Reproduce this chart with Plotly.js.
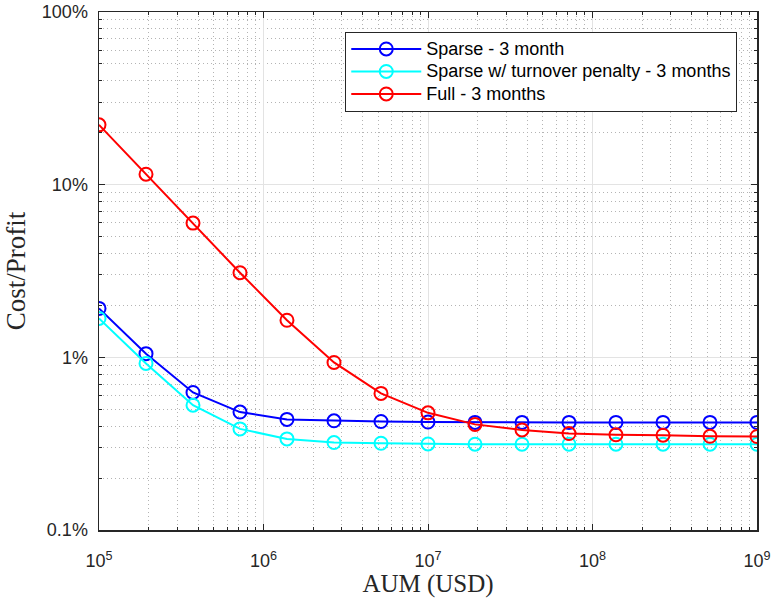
<!DOCTYPE html>
<html>
<head>
<meta charset="utf-8">
<script src="https://cdn.plot.ly/plotly-3.0.1.min.js"></script>
<style>html,body{margin:0;padding:0;background:#fff;}#chart{width:771px;height:598px;}</style>
</head>
<body>
<div id="chart"></div>
<script>
// AUM in USD (15 log-spaced points from 1e5 to 1e9)
const aum = [1e5, 1.931e5, 3.728e5, 7.197e5, 1.389e6, 2.683e6, 5.179e6, 1e7, 1.931e7, 3.728e7, 7.197e7, 1.389e8, 2.683e8, 5.179e8, 1e9];
// Cost/Profit in percent
const sparse3m = [1.92, 1.05, 0.626, 0.482, 0.437, 0.429, 0.425, 0.422, 0.420, 0.420, 0.420, 0.420, 0.420, 0.420, 0.420];
const sparseTurnover3m = [1.68, 0.922, 0.528, 0.385, 0.337, 0.321, 0.318, 0.315, 0.314, 0.314, 0.314, 0.314, 0.314, 0.314, 0.314];
const full3m = [22.2, 11.5, 5.99, 3.09, 1.64, 0.934, 0.618, 0.477, 0.409, 0.380, 0.362, 0.356, 0.354, 0.349, 0.348];

const seriesNames = ['Sparse - 3 month', 'Sparse w/ turnover penalty - 3 months', 'Full - 3 months'];
const xTickVals = [1e5, 1e6, 1e7, 1e8, 1e9];
const xTickText = ['10<sup>5</sup>', '10<sup>6</sup>', '10<sup>7</sup>', '10<sup>8</sup>', '10<sup>9</sup>'];
const yTickVals = [0.1, 1, 10, 100];
const yTickText = ['0.1%', '1%', '10%', '100%'];

function minorTicks(lo, hi) {
  const out = [];
  for (let e = lo; e < hi; e++) {
    for (let d = 2; d <= 9; d++) out.push(d * Math.pow(10, e));
  }
  return out;
}

const colors = ['#0000ff', '#00ffff', '#ff0000'];
const ys = [sparse3m, sparseTurnover3m, full3m];
const traces = ys.map((y, i) => ({
  x: aum, y: y, name: '<span style="font-size:18px">' + seriesNames[i] + '</span>',
  type: 'scatter', mode: 'lines+markers',
  line: {color: colors[i], width: 2},
  marker: {symbol: 'circle-open', size: 13, color: colors[i], line: {width: 2, color: colors[i]}}
}));

const tickFont = {family: 'Liberation Sans, Arial, sans-serif', size: 18, color: '#262626'};
const serif = 'Liberation Serif, Times New Roman, serif';

const axisCommon = {
  type: 'log', showline: true, linecolor: '#262626', linewidth: 1.5, mirror: 'allticks',
  ticks: 'inside', ticklen: 6, tickcolor: '#262626', tickwidth: 1,
  showgrid: true, gridcolor: '#e3e3e3', gridwidth: 1, zeroline: false,
  tickfont: tickFont, tickmode: 'array', automargin: false
};

const minorCommon = {
  tickmode: 'array', ticks: 'inside', ticklen: 3, tickcolor: '#262626',
  showgrid: true, gridcolor: '#b4b4b4', griddash: '1px,3px', gridwidth: 1
};

const layout = {
  width: 771, height: 598,
  margin: {l: 99, r: 14, t: 12, b: 68},
  paper_bgcolor: '#ffffff', plot_bgcolor: '#ffffff',
  showlegend: true,
  legend: {
    x: 0.970, xanchor: 'right', y: 0.962, yanchor: 'top',
    bgcolor: '#ffffff', bordercolor: '#262626', borderwidth: 1,
    font: {family: 'Liberation Sans, Arial, sans-serif', size: 15, color: '#000000'},
    tracegroupgap: 0, itemwidth: 70
  },
  xaxis: Object.assign({}, axisCommon, {
    range: [5, 9], tickvals: xTickVals, ticktext: xTickText, ticklabelstandoff: 14,
    title: {text: 'AUM (USD)', font: {family: serif, size: 25, color: '#262626'}, standoff: 0},
    minor: Object.assign({tickvals: minorTicks(5, 9)}, minorCommon)
  }),
  yaxis: Object.assign({}, axisCommon, {
    range: [-1, 2], tickvals: yTickVals, ticktext: yTickText, ticklabelstandoff: 6,
    title: {text: 'Cost/Profit', font: {family: serif, size: 27, color: '#262626'}, standoff: 8},
    minor: Object.assign({tickvals: minorTicks(-1, 2)}, minorCommon)
  })
};

Plotly.newPlot('chart', traces, layout, {staticPlot: true, displayModeBar: false});
</script>
</body>
</html>
